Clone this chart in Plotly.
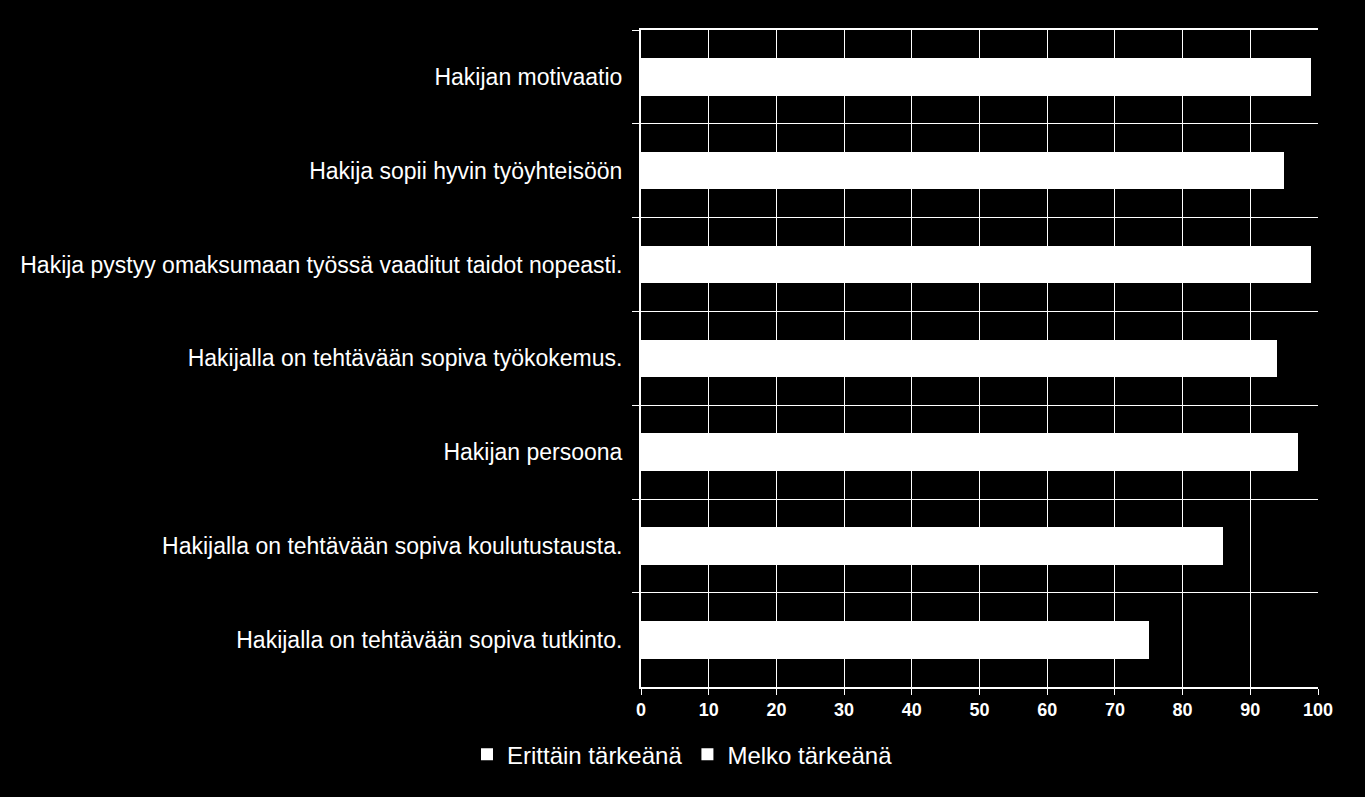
import plotly.graph_objects as go

# categories listed top to bottom as in the chart
categories = [
    "Hakijan motivaatio",
    "Hakija sopii hyvin työyhteisöön",
    "Hakija pystyy omaksumaan työssä vaaditut taidot nopeasti.",
    "Hakijalla on tehtävään sopiva työkokemus.",
    "Hakijan persoona",
    "Hakijalla on tehtävään sopiva koulutustausta.",
    "Hakijalla on tehtävään sopiva tutkinto.",
]
# both series are drawn white, so only the totals are visible; split is estimated
erittain = [75, 60, 55, 45, 50, 28, 22]
melko = [24, 35, 44, 49, 47, 58, 53]
series_names = ["Erittäin tärkeänä", "Melko tärkeänä"]
x_ticks = list(range(0, 101, 10))

font_family = "Liberation Sans, Arial, sans-serif"

fig = go.Figure()
for name, vals in zip(series_names, [erittain, melko]):
    fig.add_trace(
        go.Bar(
            y=categories,
            x=vals,
            name=name,
            orientation="h",
            marker=dict(color="white", line=dict(width=0)),
        )
    )

fig.update_layout(
    barmode="stack",
    bargap=0.6,
    paper_bgcolor="black",
    plot_bgcolor="black",
    width=1365,
    height=797,
    margin=dict(l=641, r=47, t=30, b=109),
    font=dict(family=font_family, color="white", size=23),
    legend=dict(
        orientation="h",
        traceorder="normal",
        xref="container",
        yref="container",
        x=0.5,
        xanchor="center",
        y=0.053,
        yanchor="middle",
        font=dict(size=24),
        itemwidth=30,
    ),
    xaxis=dict(
        range=[0, 100],
        tickvals=x_ticks,
        showgrid=True,
        gridcolor="white",
        gridwidth=1,
        zeroline=False,
        showline=True,
        mirror=True,
        linecolor="white",
        linewidth=2,
        ticks="outside",
        tickcolor="white",
        ticklen=6,
        tickfont=dict(size=18, family="Liberation Sans, Arial", weight="bold"),
        fixedrange=True,
    ),
    yaxis=dict(
        autorange="reversed",
        tickson="boundaries",
        showgrid=True,
        gridcolor="white",
        gridwidth=1,
        showline=True,
        linecolor="white",
        linewidth=2,
        ticks="outside",
        tickcolor="white",
        ticklen=7,
        ticklabelstandoff=12,
        tickfont=dict(size=23),
    ),
)

fig.write_html(
    "out.html",
    config={"displayModeBar": False},
    post_script="document.body.style.margin='0';document.body.style.background='black';",
)
